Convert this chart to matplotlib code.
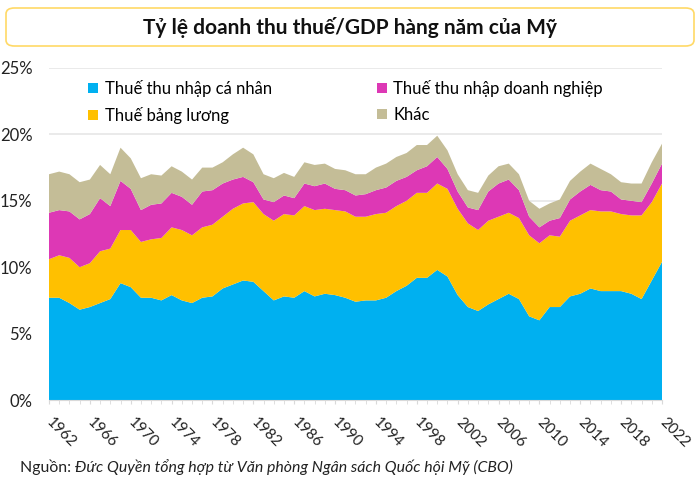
import numpy as np
import matplotlib
matplotlib.use('Agg')
import matplotlib.pyplot as plt
from matplotlib.patches import Patch, FancyBboxPatch

plt.rcParams['font.family'] = ['Lato', 'Noto Sans', 'DejaVu Sans']

# --- Data (% of GDP)
years = list(range(1962, 2023))
ca_nhan = [7.7, 7.7, 7.3, 6.8, 7.0, 7.3, 7.6, 8.8, 8.5, 7.7,
           7.7, 7.5, 7.9, 7.5, 7.3, 7.7, 7.8, 8.4, 8.7, 9.0,
           8.9, 8.2, 7.5, 7.8, 7.7, 8.2, 7.8, 8.0, 7.9, 7.7,
           7.4, 7.5, 7.5, 7.7, 8.2, 8.6, 9.2, 9.2, 9.8, 9.3,
           7.9, 7.0, 6.7, 7.2, 7.6, 8.0, 7.6, 6.3, 6.0, 7.0,
           7.0, 7.8, 8.0, 8.4, 8.2, 8.2, 8.2, 8.0, 7.6, 9.0,
           10.4]
bang_luong = [2.9, 3.2, 3.4, 3.2, 3.3, 3.9, 3.8, 4.0, 4.3, 4.2,
              4.4, 4.7, 5.1, 5.3, 5.1, 5.3, 5.4, 5.4, 5.7, 5.8,
              6.0, 5.8, 6.0, 6.2, 6.2, 6.4, 6.5, 6.4, 6.4, 6.5,
              6.4, 6.3, 6.5, 6.4, 6.4, 6.4, 6.4, 6.4, 6.5, 6.6,
              6.5, 6.3, 6.1, 6.3, 6.2, 6.1, 6.1, 6.1, 5.8, 5.4,
              5.3, 5.7, 5.9, 5.9, 6.0, 6.0, 5.8, 5.9, 6.3, 5.9,
              5.9]
doanh_nghiep = [3.5, 3.4, 3.5, 3.6, 3.7, 4.0, 3.2, 3.7, 3.1, 2.4,
                2.6, 2.6, 2.6, 2.5, 2.3, 2.7, 2.6, 2.5, 2.2, 2.0,
                1.5, 1.1, 1.4, 1.4, 1.3, 1.7, 1.8, 1.9, 1.6, 1.6,
                1.6, 1.7, 1.8, 1.9, 1.9, 1.8, 1.7, 2.0, 2.0, 1.5,
                1.3, 1.2, 1.5, 2.2, 2.5, 2.5, 2.1, 1.4, 1.2, 1.1,
                1.4, 1.6, 1.8, 1.9, 1.6, 1.5, 1.1, 1.1, 1.0, 1.4,
                1.5]
khac = [2.9, 2.9, 2.8, 2.8, 2.6, 2.5, 2.4, 2.5, 2.3, 2.4,
        2.3, 2.1, 2.0, 1.9, 1.9, 1.8, 1.7, 1.6, 1.9, 2.2,
        2.1, 1.9, 1.8, 1.7, 1.6, 1.6, 1.6, 1.5, 1.5, 1.5,
        1.6, 1.5, 1.7, 1.8, 1.8, 1.8, 1.9, 1.6, 1.6, 1.4,
        1.3, 1.3, 1.3, 1.2, 1.3, 1.2, 1.2, 1.2, 1.4, 1.3,
        1.4, 1.4, 1.5, 1.6, 1.6, 1.3, 1.3, 1.3, 1.4, 1.6,
        1.5]

labels = ['Thuế thu nhập cá nhân', 'Thuế bảng lương',
          'Thuế thu nhập doanh nghiệp', 'Khác']
colors = ['#00B0F0', '#FFC000', '#DD38B5', '#C4BD97']
tick_years = list(range(1962, 2023, 4))

# --- Figure
fig = plt.figure(figsize=(7, 4.9), dpi=100)
W, H = 700, 490
ax = fig.add_axes([49 / W, (H - 400) / H, (662 - 49) / W, (400 - 68) / H])

ax.stackplot(years, ca_nhan, bang_luong, doanh_nghiep, khac,
             colors=colors, linewidth=0, zorder=2)

ax.set_xlim(1962, 2022)
ax.set_ylim(0, 25)
ax.set_yticks(range(0, 26, 5))
ax.set_yticklabels([f'{v}%' for v in range(0, 26, 5)], fontsize=12, color='#222222')
ax.grid(axis='y', color='#E6E6E6', linewidth=1.2, zorder=0)
ax.tick_params(axis='y', length=0, pad=12)

ax.set_xticks(tick_years)
ax.set_xticklabels([str(y) for y in tick_years], rotation=-45,
                   rotation_mode='anchor', ha='left', va='center',
                   fontsize=11, color='#222222')
ax.set_xticks(years, minor=True)
ax.tick_params(axis='x', which='both', length=3, color='#D9D9D9', pad=11.5)

for s in ['top', 'right', 'left']:
    ax.spines[s].set_visible(False)
ax.spines['bottom'].set_color('#D9D9D9')
ax.spines['bottom'].set_zorder(3)

handles = [Patch(facecolor=c, edgecolor='none') for c in colors]
ax.legend(handles, labels, ncol=2, loc='upper left',
          bbox_to_anchor=(0.039, 1.01), frameon=False, fontsize=12,
          handlelength=0.6, handleheight=0.6, handletextpad=0.4,
          columnspacing=6.3, labelspacing=0.6)

# --- Title box
box = FancyBboxPatch((6 / W, (H - 46) / H), 688 / W, 38 / H,
                     boxstyle='round,pad=0,rounding_size=0.012',
                     transform=fig.transFigure, facecolor='white',
                     edgecolor='#FFD966', linewidth=1.2)
fig.patches.append(box)
fig.text(0.5, (H - 27) / H, 'Tỷ lệ doanh thu thuế/GDP hàng năm của Mỹ',
         ha='center', va='center', fontsize=15, fontweight='bold', color='#111111')

# --- Source note
t = fig.text(20 / W, (H - 467) / H, 'Nguồn: ', ha='left', va='center',
             fontsize=11.4, color='#222222')
fig.canvas.draw()
bb = t.get_window_extent()
fig.text(bb.x1 / fig.bbox.width, (H - 467) / H,
         'Đức Quyền tổng hợp từ Văn phòng Ngân sách Quốc hội Mỹ (CBO)',
         ha='left', va='center', fontsize=11.4, style='italic', color='#222222')

plt.savefig('out.png', dpi=100)
